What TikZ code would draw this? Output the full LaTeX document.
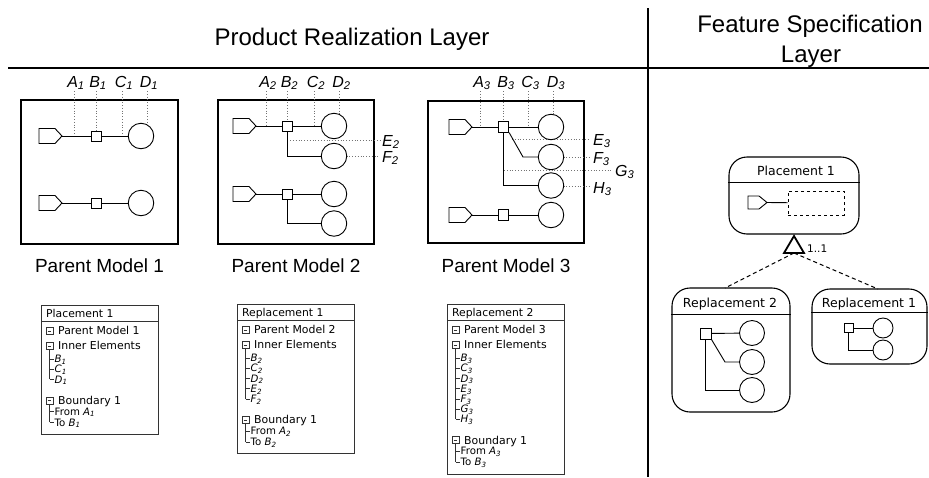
\documentclass[tikz,border=0pt]{standalone}
\usepackage{fontspec}
\setmainfont{Liberation Sans}
\newfontfamily\dvs{DejaVu Sans}
\usetikzlibrary{calc}

\tikzset{
  ln/.style={line width=0.9pt},
  sep/.style={line width=2.4pt},
  pmbox/.style={draw, rectangle, line width=1.3pt, inner sep=0pt},
  sq/.style={draw, rectangle, minimum size=10pt, inner sep=0pt, line width=0.9pt, fill=white},
  circ/.style={draw, circle, minimum size=25.5pt, inner sep=0pt, line width=0.9pt},
  dotl/.style={draw=black!55, dotted, line width=0.8pt},
  elab/.style={font=\fontsize{16}{18}\selectfont\itshape, inner sep=0pt, anchor=base},
  elabw/.style={font=\fontsize{16}{18}\selectfont\itshape, inner sep=0pt, anchor=base west},
  pmlab/.style={font=\fontsize{19}{22}\selectfont, inner sep=0pt, anchor=base},
  ttl/.style={font=\fontsize{24}{28}\selectfont, inner sep=0pt, anchor=base},
  tframe/.style={draw=black!80, line width=0.9pt},
  thead/.style={font=\dvs\fontsize{10.8}{12}\selectfont, inner sep=0pt, anchor=base west},
  titem/.style={font=\dvs\fontsize{10.9}{12}\selectfont, inner sep=0pt, anchor=base west},
  tsub/.style={font=\dvs\fontsize{10.2}{11}\selectfont, inner sep=0pt, anchor=base west},
  tline/.style={draw=black!80, line width=0.6pt},
  mbox/.style={draw=black!80, rectangle, minimum size=7pt, inner sep=0pt, line width=0.6pt,
    path picture={\draw[line width=0.6pt] ([xshift=1.6pt]path picture bounding box.west) -- ([xshift=-1.6pt]path picture bounding box.east);}},
  rbox/.style={draw, rectangle, rounded corners=18pt, line width=1.1pt, inner sep=0pt},
  rfont/.style={font=\dvs\fontsize{12.5}{14}\selectfont, inner sep=0pt, anchor=base},
  dsh/.style={line width=1pt, dash pattern=on 4pt off 3pt},
  portpic/.pic={\draw[line width=0.9pt] (0,0) -- (-7,-7.5) -- (-23,-7.5) -- (-23,7.5) -- (-7,7.5) -- cycle; \coordinate (-tip) at (0,0);},
  smallport/.pic={\draw[line width=0.9pt] (0,0) -- (-8,-6.5) -- (-19,-6.5) -- (-19,6.5) -- (-8,6.5) -- cycle; \coordinate (-tip) at (0,0);},
}

\newcommand{\treebox}[6]{%
  \pgfmathsetmacro{\icx}{#2+8.5}%
  \pgfmathsetmacro{\txx}{#2+17}%
  \pgfmathsetmacro{\sbx}{#2+13.5}%
  \pgfmathsetmacro{\tkx}{#2+12.5}%
  \node[thead] (hd#1) at (#2+5,#3+12.8) {#5};
  \draw[tframe] (#2,#3+16) -- (#4,#3+16);
  \node[mbox] (ma#1) at (\icx,#3+26) {};
  \node[titem] (pm#1t) at (\txx,#3+29.9) {Parent Model #1};
  \node[mbox] (mb#1) at (\icx,#3+41) {};
  \node[titem] (ie#1) at (\txx,#3+44.9) {Inner Elements};
  \foreach \lt [count=\k] in {#6} {%
    \pgfmathsetmacro{\yy}{#3+54+(\k-1)*10.2}%
    \node[tsub] (sb#1\lt) at (\sbx,\yy+3.7) {\itshape\lt\textsubscript{#1}};
    \draw[tline] (\icx,\yy) -- (\tkx,\yy);
    \xdef\lasty{\yy}%
  }
  \draw[tline] (mb#1.south) -- (\icx,\lasty);
  \pgfmathsetmacro{\tby}{\lasty+21}%
  \node[mbox] (mc#1) at (\icx,\tby) {};
  \node[titem] (bd#1) at (\txx,\tby+3.9) {Boundary 1};
  \node[tsub] (fr#1) at (\sbx,\tby+11+3.7) {From \textit{A}\textsubscript{\textit{#1}}};
  \node[tsub] (to#1) at (\sbx,\tby+22+3.7) {To \textit{B}\textsubscript{\textit{#1}}};
  \draw[tline] (mc#1.south) -- (\icx,\tby+22);
  \draw[tline] (\icx,\tby+11) -- (\tkx,\tby+11);
  \draw[tline] (\icx,\tby+22) -- (\tkx,\tby+22);
  \draw[tframe] (#2,#3) rectangle (#4,\tby+34);
}

\begin{document}
\begin{tikzpicture}[x=1pt,y=-1pt]
\useasboundingbox (0,0) rectangle (929,477);

% separators and titles
\draw[sep] (8,68) -- (929,68);
\draw[sep] (648,8) -- (648,477);
\node[ttl] (prl) at (352,45.5) {Product Realization Layer};
\node[ttl] (fs1) at (810,32) {Feature Specification};
\node[ttl] (fs2) at (811,62) {Layer};

% ---------------- Parent Model 1
\node[pmbox, minimum width=157pt, minimum height=144pt] (pm1) at (99.5,172) {};
\node[pmlab] (pm1l) at (99.5,272) {Parent Model 1};
\draw[dotl] (74,91) -- (74,136);
\draw[dotl] (96,91) -- (96,131);
\draw[dotl] (122,91) -- (122,136);
\draw[dotl] (147,91) -- (147,124.5);
\pic (p11) at (62,136) {portpic};
\node[sq] (s11) at (96,136) {};
\node[circ] (c11) at (141,136) {};
\draw[ln] (p11-tip) -- (s11) -- (c11);
\pic (p12) at (62,203) {portpic};
\node[sq] (s12) at (96,203) {};
\node[circ] (c12) at (141,203) {};
\draw[ln] (p12-tip) -- (s12) -- (c12);
\node[elab] (a1) at (76,87) {A\textsubscript{1}};
\node[elab] (b1) at (98,87) {B\textsubscript{1}};
\node[elab] (cc1) at (124,87) {C\textsubscript{1}};
\node[elab] (d1) at (149,87) {D\textsubscript{1}};

% ---------------- Parent Model 2
\node[pmbox, minimum width=156pt, minimum height=144pt] (pm2) at (296,172) {};
\node[pmlab] (pm2l) at (296,272) {Parent Model 2};
\draw[dotl] (266,91) -- (266,126);
\draw[dotl] (287.3,91) -- (287.3,121);
\draw[dotl] (314,91) -- (314,126);
\draw[dotl] (339.5,91) -- (339.5,114);
\draw[dotl] (287.3,140) -- (380,140);
\draw[dotl] (346.5,156) -- (380,156);
\pic (p21) at (256,126) {portpic};
\node[sq] (s21) at (287.3,126) {};
\node[circ] (c21) at (334,126) {};
\node[circ] (c22) at (334,156) {};
\draw[ln] (p21-tip) -- (s21) -- (c21);
\draw[ln] (s21.south) |- (c22);
\pic (p22) at (256,194) {portpic};
\node[sq] (s22) at (287.3,194) {};
\node[circ] (c23) at (334,194) {};
\node[circ] (c24) at (334,223.5) {};
\draw[ln] (p22-tip) -- (s22) -- (c23);
\draw[ln] (s22.south) |- (c24);
\node[elab] (a2) at (268,87) {A\textsubscript{2}};
\node[elab] (b2) at (289.5,87) {B\textsubscript{2}};
\node[elab] (cc2) at (316,87) {C\textsubscript{2}};
\node[elab] (d2) at (341.5,87) {D\textsubscript{2}};
\node[elabw] (e2) at (382,146) {E\textsubscript{2}};
\node[elabw] (f2) at (382,162) {F\textsubscript{2}};

% ---------------- Parent Model 3
\node[pmbox, minimum width=156pt, minimum height=142pt] (pm3) at (506,172) {};
\node[pmlab] (pm3l) at (506,272) {Parent Model 3};
\draw[dotl] (480,91) -- (480,127);
\draw[dotl] (503.5,91) -- (503.5,122);
\draw[dotl] (528,91) -- (528,127);
\draw[dotl] (553,91) -- (553,115);
\draw[dotl] (512,139) -- (590,139);
\draw[dotl] (563.5,157) -- (590,157);
\draw[dotl] (504,170) -- (613,170);
\draw[dotl] (563.5,186) -- (590,186);
\pic (p31) at (472,127) {portpic};
\node[sq, minimum size=10.5pt] (s31) at (503.5,127) {};
\node[circ] (c31) at (551,127) {};
\node[circ] (c32) at (551,157) {};
\node[circ] (c33) at (551,185.5) {};
\draw[ln] (p31-tip) -- (s31) -- (c31);
\draw[ln] (s31.south east) -- (523,157) -- (c32);
\draw[ln] (s31.south) |- (c33);
\pic (p32) at (472,215) {portpic};
\node[sq, minimum size=10.5pt] (s32) at (503.5,215) {};
\node[circ] (c34) at (551,215) {};
\draw[ln] (p32-tip) -- (s32) -- (c34);
\node[elab] (a3) at (482,87) {A\textsubscript{3}};
\node[elab] (b3) at (506,87) {B\textsubscript{3}};
\node[elab] (cc3) at (530.5,87) {C\textsubscript{3}};
\node[elab] (d3) at (556,87) {D\textsubscript{3}};
\node[elabw] (e3) at (593,145) {E\textsubscript{3}};
\node[elabw] (f3) at (593,163) {F\textsubscript{3}};
\node[elabw] (g3) at (615,176) {G\textsubscript{3}};
\node[elabw] (h3) at (593,193) {H\textsubscript{3}};

% ---------------- Tree boxes
\treebox{1}{41}{305}{158}{Placement 1}{B,C,D}
\treebox{2}{237}{304}{354}{Replacement 1}{B,C,D,E,F}
\treebox{3}{447}{304}{564}{Replacement 2}{B,C,D,E,F,G,H}

% ---------------- Feature specification layer
\node[rbox, minimum width=130pt, minimum height=77pt] (plc) at (794,195.5) {};
\draw[ln] (plc.west |- 0,182) -- (plc.east |- 0,182);
\node[rfont] (plct) at (796,175.5) {Placement 1};
\pic (pp) at (767,202.5) {smallport};
\node[draw, dashed, line width=0.8pt, minimum width=56pt, minimum height=24pt, inner sep=0pt] (dr) at (816,203) {};
\draw[ln] (pp-tip) -- (dr);

\coordinate (tapex) at (794,236);
\coordinate (tl) at (784,253);
\coordinate (tr) at (804,253);
\coordinate (tbase) at (794,253);
\draw[line width=1.8pt] (tapex) -- (tr) -- (tl) -- cycle;
\node[font=\dvs\fontsize{10.5}{12}\selectfont, inner sep=0pt, anchor=base west] (mult) at (807,252.8) {1..1};

\node[rbox, minimum width=118pt, minimum height=124pt] (r2) at (731,350) {};
\draw[ln] (r2.west |- 0,314) -- (r2.east |- 0,314);
\node[rfont] (r2t) at (730,307.5) {Replacement 2};
\node[sq, minimum size=11pt] (rs2) at (705.5,333.5) {};
\node[circ, minimum size=25pt] (rc1) at (752,333) {};
\node[circ, minimum size=25pt] (rc2) at (752,362) {};
\node[circ, minimum size=25pt] (rc3) at (752,390) {};
\draw[ln] (rs2) -- (rc1);
\draw[ln] (rs2.south east) -- (725,362) -- (rc2);
\draw[ln] (rs2.south) |- (rc3);

\node[rbox, minimum width=115pt, minimum height=75pt] (r1) at (869.5,326.5) {};
\draw[ln] (r1.west |- 0,312) -- (r1.east |- 0,312);
\node[rfont] (r1t) at (869,307) {Replacement 1};
\node[sq, minimum size=9pt] (rs1) at (848.5,328) {};
\node[circ, minimum size=20pt] (rd1) at (883,328) {};
\node[circ, minimum size=20pt] (rd2) at (883,350) {};
\draw[ln] (rs1) -- (rd1);
\draw[ln] (rs1.south) |- (rd2);

\coordinate (r2top) at (725,288);
\coordinate (r1top) at (878,289);
\draw[dsh] (tbase) -- (r2top);
\draw[dsh] (tbase) -- (r1top);
\end{tikzpicture}
\end{document}
